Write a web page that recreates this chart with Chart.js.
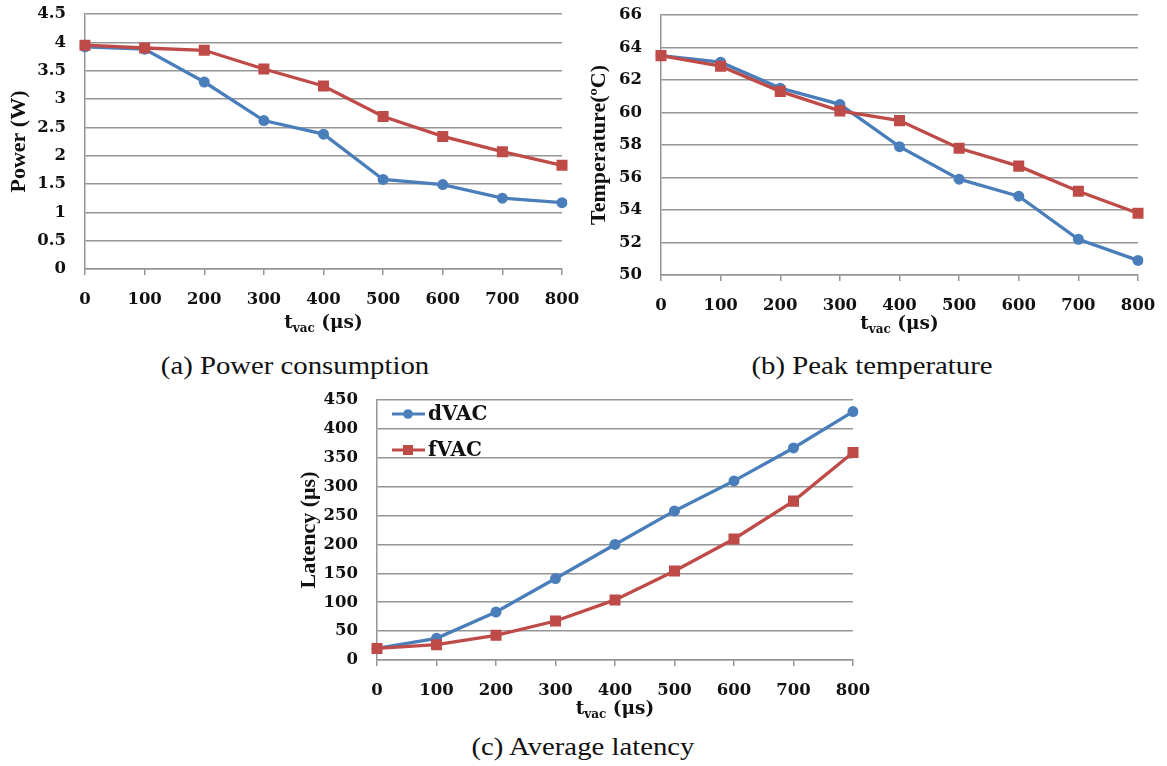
<!DOCTYPE html>
<html><head><meta charset="utf-8">
<script src="https://cdn.jsdelivr.net/npm/chart.js@4.4.1/dist/chart.umd.min.js"></script>
<style>
html,body{margin:0;padding:0;background:#fff;width:1167px;height:766px;overflow:hidden;position:relative}
canvas{position:absolute;display:block}
.cap{position:absolute;font-family:'Liberation Serif',serif;font-size:25px;color:#111;white-space:nowrap;transform:translate(-50%,-50%) scaleX(1.15)}
</style></head><body>
<canvas id="cA" width="600" height="340" style="left:0;top:0"></canvas>
<canvas id="cB" width="600" height="340" style="left:580px;top:0"></canvas>
<canvas id="cC" width="610" height="340" style="left:290px;top:385px"></canvas>
<div class="cap" style="left:295px;top:366px">(a) Power consumption</div>
<div class="cap" style="left:872px;top:366px">(b) Peak temperature</div>
<div class="cap" style="left:583px;top:747px">(c) Average latency</div>
<script>
// ---- data ----
const tvac = ['0','100','200','300','400','500','600','700','800'];
const seriesNames = ['dVAC','fVAC'];
const powerDVAC = [3.92,3.88,3.30,2.62,2.38,1.58,1.49,1.25,1.17];
const powerFVAC = [3.95,3.90,3.86,3.53,3.23,2.69,2.34,2.07,1.83];
const tempDVAC  = [63.5,63.1,61.5,60.5,57.9,55.9,54.85,52.2,50.9];
const tempFVAC  = [63.5,62.85,61.3,60.1,59.5,57.8,56.7,55.15,53.8];
const latDVAC   = [20,37.5,83,141,200,258,310,367,430];
const latFVAC   = [20,26.5,42.7,67.5,104,154,209.5,275,359];
// axis [min, max, step]
const powerAxis = [0, 4.5, 0.5];
const tempAxis  = [50, 66, 2];
const latAxis   = [0, 450, 50];
const yTitles = ['Power (W)', 'Temperature(ºC)', 'Latency (μs)'];

// ---- styles ----
const BLUE = '#4A7EBB', RED = '#BE4B48', GRID = '#959595', TXT = '#111';
const TF = 'DejaVu Serif';

const xTitlePlugin = {
  id: 'xTitle',
  afterDraw(chart, args, opts) {
    const {ctx, chartArea} = chart;
    const cx = (chartArea.left + chartArea.right) / 2;
    const y = opts.y;
    const main = 'bold 18.5px "DejaVu Serif"', sub = 'bold 12px "DejaVu Serif"';
    ctx.save();
    ctx.fillStyle = TXT; ctx.textBaseline = 'alphabetic'; ctx.textAlign = 'left';
    ctx.font = main; const w1 = ctx.measureText('t').width; const w3 = ctx.measureText(' (μs)').width;
    ctx.font = sub; const w2 = ctx.measureText('vac').width;
    let x = cx - (w1 + w2 + w3) / 2;
    ctx.font = main; ctx.fillText('t', x, y); x += w1;
    ctx.font = sub; ctx.fillText('vac', x, y + 4); x += w2;
    ctx.font = main; ctx.fillText(' (μs)', x, y);
    ctx.restore();
  }
};

const innerLegend = {
  id: 'innerLegend',
  afterDraw(chart, args, opts) {
    if (!opts.show) return;
    const {ctx, chartArea} = chart;
    chart.data.datasets.forEach((ds, i) => {
      const y = chartArea.top + opts.y0 + i * opts.dy;
      const x0 = chartArea.left + opts.x0;
      ctx.save();
      ctx.strokeStyle = ds.borderColor; ctx.fillStyle = ds.backgroundColor; ctx.lineWidth = 3;
      ctx.beginPath(); ctx.moveTo(x0, y); ctx.lineTo(x0 + 33, y); ctx.stroke();
      const mx = x0 + 16;
      if (ds.pointStyle === 'rect') { ctx.fillRect(mx - 5, y - 5, 10, 10); }
      else { ctx.beginPath(); ctx.arc(mx, y, 4.8, 0, Math.PI * 2); ctx.fill(); }
      ctx.fillStyle = TXT; ctx.font = 'bold 20px "DejaVu Serif"'; ctx.textBaseline = 'middle'; ctx.textAlign = 'left';
      ctx.fillText(ds.label, x0 + 36, y + 1);
      ctx.restore();
    });
  }
};

function fmt(v) { return String(Math.round(v * 100) / 100); }

function makeChart(id, dA, dB, axis, yTitle, g, showLegend) {
  return new Chart(document.getElementById(id), {
    type: 'line',
    data: {
      labels: tvac,
      datasets: [
        {label: seriesNames[0], data: dA, borderColor: BLUE, backgroundColor: BLUE, pointStyle: 'circle',
         pointRadius: 5.5, pointBorderWidth: 0, borderWidth: 3.3, order: 1, tension: 0},
        {label: seriesNames[1], data: dB, borderColor: RED, backgroundColor: RED, pointStyle: 'rect',
         pointRadius: 7.8, pointBorderWidth: 0, borderWidth: 3.3, order: 0, tension: 0}
      ]
    },
    options: {
      responsive: false, animation: false, devicePixelRatio: 1,
      layout: {padding: {left: 0, top: g.top, right: g.right, bottom: 0}},
      plugins: {
        legend: {display: false}, tooltip: {enabled: false},
        xTitle: {y: g.titleY},
        innerLegend: {show: showLegend, x0: 15, y0: 14, dy: 36}
      },
      scales: {
        x: {
          type: 'category', offset: false,
          grid: {drawOnChartArea: false, drawTicks: true, tickLength: 6, color: GRID, lineWidth: 1.5},
          border: {color: GRID, width: 1.5},
          ticks: {font: {family: TF, weight: 'bold', size: 16.5}, color: TXT, padding: 15, maxRotation: 0, autoSkip: false},
          afterFit(s) { s.height = g.xh; }
        },
        y: {
          min: axis[0], max: axis[1],
          ticks: {stepSize: axis[2], font: {family: TF, weight: 'bold', size: 16.5}, color: TXT, padding: 2,
                  callback: (v) => fmt(v)},
          grid: {color: GRID, drawTicks: true, tickLength: 17, tickColor: 'rgba(0,0,0,0)', lineWidth: 1.5},
          border: {color: GRID, width: 1.5},
          title: {display: true, text: yTitle, color: TXT, padding: {top: 6, bottom: 0},
                  font: {family: 'Liberation Serif', weight: 'bold', size: 22}},
          afterFit(s) { s.width = g.yw; }
        }
      }
    },
    plugins: [xTitlePlugin, innerLegend]
  });
}

makeChart('cA', powerDVAC, powerFVAC, powerAxis, yTitles[0], {top: 14, right: 38, xh: 71, yw: 85, titleY: 328}, false);
makeChart('cB', tempDVAC, tempFVAC, tempAxis, yTitles[1], {top: 15, right: 42, xh: 65, yw: 81, titleY: 329}, false);
makeChart('cC', latDVAC, latFVAC, latAxis, yTitles[2], {top: 15, right: 47, xh: 65, yw: 87, titleY: 329}, true);
</script>
</body></html>
